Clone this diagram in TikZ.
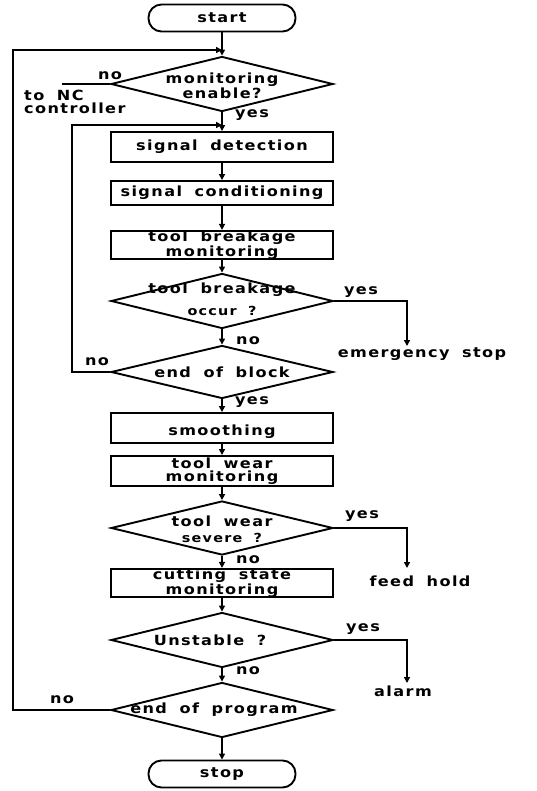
\documentclass[tikz,border=0pt]{standalone}
\usepackage{fontspec}
\newfontfamily\lblfont{DejaVu Sans Bold}[FakeStretch=1.15,LetterSpace=10,WordSpace=1.8]
\usetikzlibrary{arrows.meta,shapes.geometric}
\begin{document}
\begin{tikzpicture}[x=1pt,y=-1pt,
  ln/.style={line width=1.9pt},
  arr/.style={line width=1.9pt,-{Triangle[length=6pt,width=6pt]}},
  fnt/.style={font=\lblfont\fontsize{14}{13}\selectfont},
  sfnt/.style={font=\lblfont\fontsize{12.5}{12}\selectfont},
  proc/.style={draw,line width=1.9pt,minimum width=222pt,inner sep=0pt,fnt,align=center},
  term/.style={draw,line width=1.9pt,rounded corners=13pt,minimum width=147pt,minimum height=27pt,inner sep=0pt,fnt},
  dia/.style={draw,diamond,line width=1.9pt,minimum width=222pt,minimum height=55pt,inner sep=0pt},
  txt/.style={inner sep=0pt,fnt,align=center},
  stxt/.style={inner sep=0pt,sfnt,align=center}
]
\useasboundingbox (0,0) rectangle (537,791);
% terminals
\node[term] (start) at (222,18) {start};
\node[term] (stop) at (222,774) {stop};
% decision 1
\node[dia] (d1) at (222,84) {};
\node[txt] (d1t) at (222,86) {monitoring\\enable?};
% process boxes
\node[proc,minimum height=30pt] (sd) at (222,147) {signal detection};
\node[proc,minimum height=24pt] (sc) at (222,193) {signal conditioning};
\node[proc,minimum height=26pt] (tbm) at (222,245) {tool breakage\\monitoring};
% decision 2
\node[dia] (d2) at (222,301) {};
\node[txt] (d2a) at (222,290) {tool breakage};
\node[stxt] (d2b) at (222,311) {occur ?};
% decision 3
\node[dia,minimum height=53pt] (d3) at (222,372) {};
\node[txt] (d3t) at (222,372) {end of block};
% smoothing
\node[proc,minimum height=30pt] (sm) at (222,428) {};
\node[txt] (smt) at (222,432) {smoothing};
\node[proc,minimum height=30pt] (twm) at (222,471) {tool wear\\monitoring};
% decision 4
\node[dia,minimum height=54pt] (d4) at (222,528) {};
\node[txt] (d4a) at (222,521) {tool wear};
\node[stxt] (d4b) at (222,538) {severe ?};
% cutting state
\node[proc,minimum height=28pt] (csm) at (222,583) {cutting state\\monitoring};
% decision 5
\node[dia] (d5) at (222,640) {};
\node[txt] (d5t) at (210,640) {Unstable ?};
% decision 6
\node[dia] (d6) at (222,710) {};
\node[txt] (d6t) at (214,710) {end of program};
% outcome texts
\node[txt] (es) at (422,354) {emergency stop};
\node[txt] (fh) at (420,581) {feed hold};
\node[txt] (al) at (403,691) {alarm};
\node[txt,align=left,anchor=north west] (nc) at (24,90) {to NC\\controller};
% yes/no labels
\node[txt] (y1) at (252,115) {yes};
\node[txt] (n1) at (110,76) {no};
\node[txt] (y2) at (361,292) {yes};
\node[txt] (n2) at (248,341) {no};
\node[txt] (n3) at (97,362) {no};
\node[txt] (y3) at (252,402) {yes};
\node[txt] (y4) at (362,516) {yes};
\node[txt] (n4) at (248,560) {no};
\node[txt] (y5) at (363,629) {yes};
\node[txt] (n5) at (248,671) {no};
\node[txt] (n6) at (62,700) {no};
% coordinates
\coordinate (j1) at (222,50);
\coordinate (o2) at (13,50);
\coordinate (j2) at (222,125);
\coordinate (i2) at (72,125);
\coordinate (ncl) at (62,84);
\coordinate (e1) at (407,346);
\coordinate (f1) at (407,568);
\coordinate (a1) at (407,683);
% connectors
\draw[arr] (start) -- (d1.north);
\draw[arr] (d1.south) -- (sd.north);
\draw[arr] (sd) -- (sc);
\draw[arr] (sc) -- (tbm);
\draw[arr] (tbm) -- (d2.north);
\draw[arr] (d2.south) -- (d3.north);
\draw[arr] (d3.south) -- (sm.north);
\draw[arr] (sm) -- (twm);
\draw[arr] (twm) -- (d4.north);
\draw[arr] (d4.south) -- (csm.north);
\draw[arr] (csm) -- (d5.north);
\draw[arr] (d5.south) -- (d6.north);
\draw[arr] (d6.south) -- (stop.north);
\draw[ln] (d1.west) -- (ncl);
\draw[arr] (d2.east) -| (e1);
\draw[arr] (d4.east) -| (f1);
\draw[arr] (d5.east) -| (a1);
\draw[arr] (d3.west) -| (i2) -- (j2);
\draw[arr] (d6.west) -| (o2) -- (j1);
\end{tikzpicture}
\end{document}
